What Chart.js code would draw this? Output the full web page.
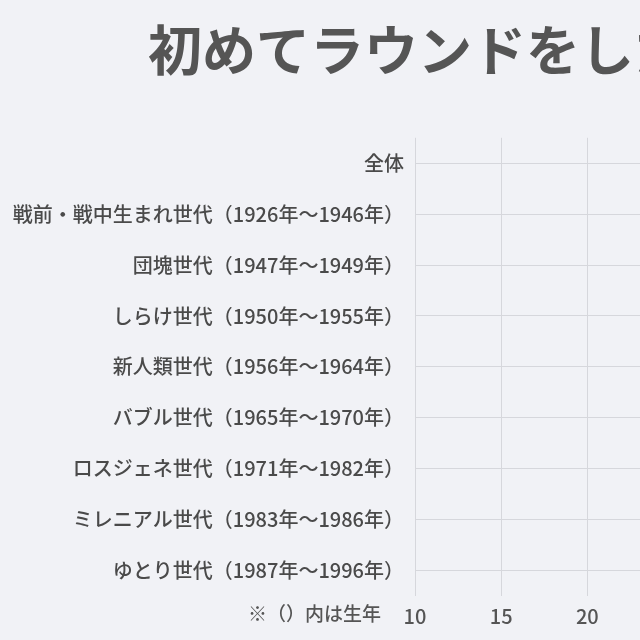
<!DOCTYPE html>
<html lang="ja">
<head>
<meta charset="utf-8">
<script src="https://cdn.jsdelivr.net/npm/chart.js@4"></script>
<style>
  html, body { margin: 0; padding: 0; background: #f1f2f6; overflow: hidden; }
  #ageChart { display: block; }
</style>
</head>
<body>
<canvas id="ageChart" width="1080" height="640"></canvas>
<script>
// 世代ラベル
var generations = [
    '全体',
    '戦前・戦中生まれ世代（1926年～1946年）',
    '団塊世代（1947年～1949年）',
    'しらけ世代（1950年～1955年）',
    '新人類世代（1956年～1964年）',
    'バブル世代（1965年～1970年）',
    'ロスジェネ世代（1971年～1982年）',
    'ミレニアル世代（1983年～1986年）',
    'ゆとり世代（1987年～1996年）'
];
// 初めてラウンドをした平均年齢（歳）
var firstRoundAge = [28.6, 35.2, 31.4, 29.8, 27.5, 26.3, 27.1, 25.9, 24.4];
var xTicks = [10, 15, 20, 25, 30, 35, 40, 45];
var footNote = '※（）内は生年';

var textColor = '#555555';
var gridColor = '#d6d7dc';
var jpFont = '"Noto Sans CJK JP", "Noto Sans", sans-serif';

// x軸ラベルの左側に注記を書く
var noteOnAxis = {
    id: 'noteOnAxis',
    afterDraw: function (chart) {
        var c = chart.ctx;
        var area = chart.chartArea;
        c.save();
        c.font = '500 19px ' + jpFont;
        c.fillStyle = textColor;
        c.textAlign = 'right';
        c.textBaseline = 'middle';
        c.fillText(footNote, area.left - 34, area.bottom + 18);
        c.restore();
    }
};

var ctx = document.getElementById('ageChart').getContext('2d');
new Chart(ctx, {
    type: 'line',
    data: {
        labels: generations,
        datasets: [{
            label: '平均年齢',
            data: firstRoundAge,
            showLine: false,
            pointRadius: 8,
            pointStyle: 'circle',
            backgroundColor: '#4a4d55',
            borderColor: '#4a4d55'
        }]
    },
    plugins: [noteOnAxis],
    options: {
        indexAxis: 'y',
        responsive: false,
        animation: false,
        devicePixelRatio: 1,
        layout: {
            padding: { left: 8, right: 36, top: 8, bottom: 4 }
        },
        plugins: {
            title: {
                display: true,
                text: '初めてラウンドをした平均年齢',
                color: textColor,
                font: { family: jpFont, size: 54, weight: 'bold' },
                padding: { top: 10, bottom: 15 }
            },
            legend: {
                display: true,
                position: 'top',
                align: 'end',
                labels: {
                    usePointStyle: true,
                    color: textColor,
                    font: { family: jpFont, size: 16 },
                    padding: 14
                }
            },
            tooltip: { enabled: false }
        },
        scales: {
            x: {
                min: 10,
                max: 46.5,
                afterBuildTicks: function (axis) {
                    axis.ticks = xTicks.map(function (v) { return { value: v }; });
                },
                grid: { color: gridColor, drawTicks: false },
                border: { display: false },
                ticks: {
                    color: textColor,
                    padding: 8,
                    font: { family: jpFont, size: 20, weight: 500 }
                }
            },
            y: {
                offset: true,
                afterFit: function (scale) { scale.width = 407; },
                grid: { color: gridColor, drawTicks: false, offset: false },
                border: { display: false },
                ticks: {
                    color: '#4a4a4a',
                    padding: 11,
                    font: { family: jpFont, size: 20, weight: 500 }
                }
            }
        }
    }
});
</script>
</body>
</html>
